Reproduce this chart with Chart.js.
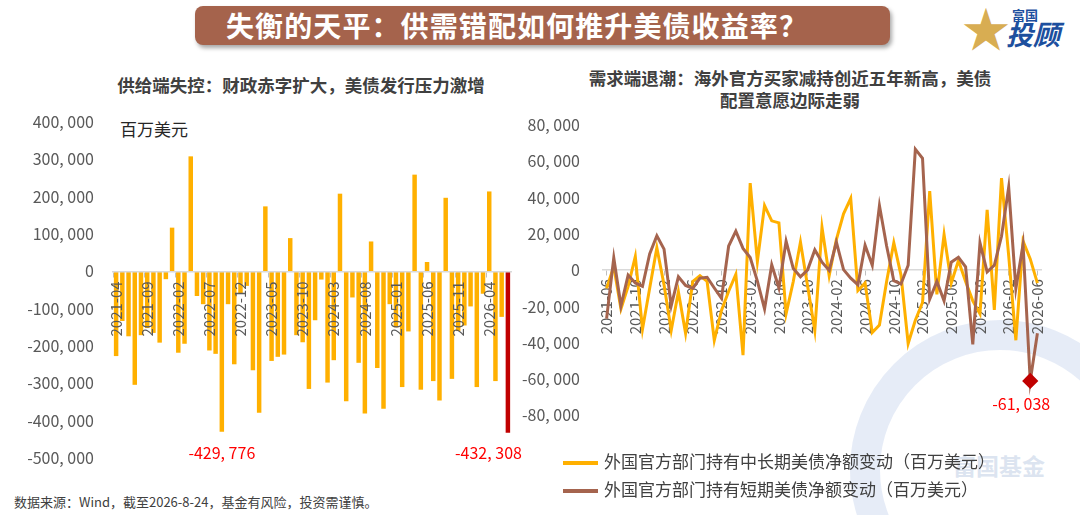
<!DOCTYPE html>
<html lang="zh-CN">
<head>
<meta charset="UTF-8">
<title>失衡的天平：供需错配如何推升美债收益率？</title>
<style>
  body {
    margin: 0;
    width: 1080px;
    height: 515px;
    position: relative;
    overflow: hidden;
    background: #fff;
    font-family: "Noto Sans CJK SC", "Noto Sans", sans-serif;
    color: #404040;
  }
  .abs { position: absolute; }
  .title {
    left: 195px; top: 6px; width: 695px; height: 39px;
    background: #a5634c; border-radius: 8px;
    box-shadow: 2px 3px 4px rgba(0, 0, 0, 0.35);
    color: #fff; font-size: 28px; font-weight: bold; line-height: 39px;
    letter-spacing: 1.1px;
    padding-left: 31px; box-sizing: border-box;
  }
  .logo-star { left: 962px; top: -2px; font-size: 48px; color: #d8ad52; line-height: 56px; }
  .logo-small { left: 1012px; top: 5px; font-size: 13px; font-weight: bold; color: #1d4f9e; }
  .logo-big { left: 1006px; top: 19px; font-size: 27px; font-weight: bold; font-style: italic; color: #1d4f9e; line-height: 30px; }
  .sub { font-size: 17.5px; font-weight: bold; line-height: 22px; text-align: center; color: #404040; }
  .unit { left: 120px; top: 116px; font-size: 17px; color: #262626; }
  .ring {
    left: 850px; top: 320px; width: 240px; height: 240px;
    border: 30px solid rgba(222, 230, 244, 0.75); border-radius: 50%;
  }
  .mark { left: 953px; top: 448px; font-size: 23px; font-weight: bold; color: rgba(190, 205, 228, 0.55); }
  .legend { left: 563px; font-size: 17px; color: #404040; line-height: 22px; }
  .legend span { display: inline-block; width: 35px; height: 4px; vertical-align: middle; margin-right: 6px; }
  .foot { left: 14px; top: 492px; font-size: 13px; color: #404040; }
  .box { position: absolute; }
</style>
<script src="https://cdn.jsdelivr.net/npm/chart.js"></script>
</head>
<body>
  <div class="abs ring"></div>
  <div class="abs mark">富国基金</div>

  <div class="abs title">失衡的天平：供需错配如何推升美债收益率？</div>
  <div class="abs logo-star">★</div>
  <div class="abs logo-small">富国</div>
  <div class="abs logo-big">投顾</div>

  <div class="abs sub" style="left:0; top:74px; width:602px;">供给端失控：财政赤字扩大，美债发行压力激增</div>
  <div class="abs sub" style="left:540px; top:67px; width:500px;">需求端退潮：海外官方买家减持创近五年新高，美债<br>配置意愿边际走弱</div>
  <div class="abs unit">百万美元</div>

  <div class="box" style="left:0; top:100px; width:540px; height:380px;">
    <canvas id="supplyChart"></canvas>
  </div>
  <div class="box" style="left:520px; top:100px; width:560px; height:340px;">
    <canvas id="demandChart"></canvas>
  </div>

  <div class="abs legend" style="top:450px;"><span style="background:#ffb000;"></span>外国官方部门持有中长期美债净额变动（百万美元）</div>
  <div class="abs legend" style="top:478px;"><span style="background:#a5644e;"></span>外国官方部门持有短期美债净额变动（百万美元）</div>

  <div class="abs foot">数据来源：Wind，截至2026-8-24，基金有风险，投资需谨慎。</div>

<script>
// 左图：美债净发行（百万美元），2021-04 ~ 2026-07
const supplyMonths = [
  '2021-04','2021-05','2021-06','2021-07','2021-08','2021-09','2021-10','2021-11','2021-12',
  '2022-01','2022-02','2022-03','2022-04','2022-05','2022-06','2022-07','2022-08','2022-09','2022-10','2022-11','2022-12',
  '2023-01','2023-02','2023-03','2023-04','2023-05','2023-06','2023-07','2023-08','2023-09','2023-10','2023-11','2023-12',
  '2024-01','2024-02','2024-03','2024-04','2024-05','2024-06','2024-07','2024-08','2024-09','2024-10','2024-11','2024-12',
  '2025-01','2025-02','2025-03','2025-04','2025-05','2025-06','2025-07','2025-08','2025-09','2025-10','2025-11','2025-12',
  '2026-01','2026-02','2026-03','2026-04','2026-05','2026-06','2026-07'
];
const supplyValues = [
  -227000, -133000, -174000, -304000, -171000, -152000, -165000, -191000, -21000,
  117000, -218000, -194000, 308000, -66000, -88000, -212000, -221000, -429776, -88000, -249000, -60000,
  -39000, -265000, -379000, 174000, -240000, -229000, -223000, 89000, -171000, -190000, -315000, -131000,
  -22000, -298000, -238000, 208000, -348000, -70000, -245000, -381000, 80000, -259000, -368000, -88000,
  -150000, -310000, -161000, 259000, -317000, 25000, -294000, -346000, 197000, -288000, -160000, -145000,
  -94000, -310000, -60000, 214000, -294000, -122000, -432308
];
const supplyNoteIdx = [17, 63];
const supplyTicks = [400000, 300000, 200000, 100000, 0, -100000, -200000, -300000, -400000, -500000];

// 右图：外国官方部门持有美债净额变动（百万美元），2021-06 ~ 2026-06
const demandMonths = [
  '2021-06','2021-07','2021-08','2021-09','2021-10','2021-11','2021-12',
  '2022-01','2022-02','2022-03','2022-04','2022-05','2022-06','2022-07','2022-08','2022-09','2022-10','2022-11','2022-12',
  '2023-01','2023-02','2023-03','2023-04','2023-05','2023-06','2023-07','2023-08','2023-09','2023-10','2023-11','2023-12',
  '2024-01','2024-02','2024-03','2024-04','2024-05','2024-06','2024-07','2024-08','2024-09','2024-10','2024-11','2024-12',
  '2025-01','2025-02','2025-03','2025-04','2025-05','2025-06','2025-07','2025-08','2025-09','2025-10','2025-11','2025-12',
  '2026-01','2026-02','2026-03','2026-04','2026-05','2026-06'
];
const longTermValues = [
  -10000, 2000, -21300, -8900, 7600, -32500, -10000,
  12400, -8000, -33200, -11900, -34700, -6200, -3000, -6200, -38600, -22200, -11600, -2300,
  -46800, 48000, 4800, 35600, 27200, 26100, -24000, -6200, 15500, -8900, -33200, 23600,
  -3000, 16900, 31100, 39600, -11200, -7100, -34300, -30200, -6200, 15100, -2700, -40400,
  -27600, -17800, 43600, -13300, 19600, -7100, 5300, -6200, -16900, -24000, 33200, -21900,
  50700, 8000, -38600, 16000, 6200, -7100
];
const shortTermValues = [
  -26700, 6800, -19600, -2700, -7000, -8900, 8900,
  19000, 11600, -19600, -3600, -8400, -10000, -4400, -3900, -9800, -15500, 13300, 21500,
  12000, 7000, -6000, -21300, 3000, -9800, 16000, 900, -3600, 200, 11200, 4400,
  -100, 15500, 300, -4400, -8000, 13700, 2700, 35600, 13300, -5800, -7600, 2700,
  66700, 61700, -16000, -6200, -16900, 4400, 7100, 1800, -40900, 15100, -900, 2700,
  18700, 45700, -10100, 14200, -61038, -34700
];
const demandTicks = [80000, 60000, 40000, 20000, 0, -20000, -40000, -60000, -80000];

const YELLOW = '#ffb000';
const BROWN = '#a5644e';
const DARK_RED = '#c00000';
const FONT = '"Noto Sans CJK SC", "Noto Sans", sans-serif';

function fmt(v) {
  return Number(v).toLocaleString('en-US').replace(/,/g, ', ');
}

// 在柱/点下方写出数值
const notesPlugin = {
  id: 'notes',
  afterDatasetsDraw(chart, args, opts) {
    if (!opts.items) return;
    const ctx = chart.ctx;
    const ds = opts.dataset || 0;
    const meta = chart.getDatasetMeta(ds);
    const data = chart.data.datasets[ds].data;
    ctx.save();
    ctx.fillStyle = '#ff0000';
    ctx.font = '16px ' + FONT;
    ctx.textBaseline = 'middle';
    opts.items.forEach(it => {
      const el = meta.data[it.index];
      ctx.textAlign = it.align || 'center';
      ctx.fillText(fmt(data[it.index]), el.x + (it.dx || 0), el.y + (it.dy || 0));
    });
    ctx.restore();
  }
};

// 左图
new Chart(document.getElementById('supplyChart'), {
  type: 'bar',
  data: {
    labels: supplyMonths,
    datasets: [{
      data: supplyValues,
      backgroundColor: ctx => ctx.dataIndex === supplyValues.length - 1 ? DARK_RED : YELLOW,
      barPercentage: 0.72,
      categoryPercentage: 1
    }]
  },
  options: {
    responsive: true,
    maintainAspectRatio: false,
    animation: false,
    layout: { padding: { top: 22, bottom: 22, left: 0, right: 29 } },
    plugins: {
      legend: { display: false },
      tooltip: { enabled: false },
      notes: {
        dataset: 0,
        items: [
          { index: supplyNoteIdx[0], dy: 21 },
          { index: supplyNoteIdx[1], dy: 20, dx: 14, align: 'right' }
        ]
      }
    },
    scales: {
      x: {
        position: { y: 0 },
        grid: {
          drawOnChartArea: false,
          tickLength: 5,
          color: ctx => ctx.index % 5 === 0 ? '#bfbfbf' : 'rgba(0,0,0,0)'
        },
        border: { color: '#d9d9d9', width: 1.5, z: 1 },
        ticks: {
          z: 1,
          autoSkip: false,
          minRotation: 90,
          maxRotation: 90,
          padding: 5,
          color: '#595959',
          font: { size: 15, family: FONT },
          callback: function (val, i) { return i % 5 === 0 ? this.getLabelForValue(val) : ''; }
        }
      },
      y: {
        min: supplyTicks[supplyTicks.length - 1],
        max: supplyTicks[0],
        afterBuildTicks: scale => { scale.ticks = supplyTicks.map(v => ({ value: v })); },
        afterFit: scale => { scale.width = 113; },
        grid: { display: false },
        border: { display: false },
        ticks: {
          padding: 11,
          color: '#595959',
          font: { size: 16, family: FONT },
          callback: v => fmt(v)
        }
      }
    }
  },
  plugins: [notesPlugin]
});

// 右图
const lowIdx = shortTermValues.indexOf(Math.min(...shortTermValues));

new Chart(document.getElementById('demandChart'), {
  type: 'line',
  data: {
    labels: demandMonths,
    datasets: [
      {
        label: '外国官方部门持有中长期美债净额变动（百万美元）',
        data: longTermValues,
        borderColor: YELLOW,
        backgroundColor: YELLOW,
        borderWidth: 3,
        pointRadius: 0,
        tension: 0,
        order: 1
      },
      {
        label: '外国官方部门持有短期美债净额变动（百万美元）',
        data: shortTermValues,
        borderColor: BROWN,
        backgroundColor: BROWN,
        borderWidth: 3,
        tension: 0,
        pointStyle: 'rectRot',
        pointRadius: ctx => ctx.dataIndex === lowIdx ? 6 : 0,
        pointBackgroundColor: DARK_RED,
        pointBorderColor: DARK_RED,
        order: 0
      }
    ]
  },
  options: {
    responsive: true,
    maintainAspectRatio: false,
    animation: false,
    layout: { padding: { top: 25, bottom: 15, left: 0, right: 39 } },
    plugins: {
      legend: { display: false },
      tooltip: { enabled: false },
      notes: {
        dataset: 1,
        items: [{ index: lowIdx, dy: 23, dx: -9 }]
      }
    },
    scales: {
      x: {
        offset: true,
        position: { y: 0 },
        grid: {
          offset: false,
          drawOnChartArea: false,
          tickLength: 5,
          color: ctx => ctx.index % 4 === 0 ? '#bfbfbf' : 'rgba(0,0,0,0)'
        },
        border: { color: '#d9d9d9', width: 1.5 },
        ticks: {
          autoSkip: false,
          minRotation: 90,
          maxRotation: 90,
          padding: 4,
          color: '#595959',
          font: { size: 15, family: FONT },
          callback: function (val, i) { return i % 4 === 0 ? this.getLabelForValue(val) : ''; }
        }
      },
      y: {
        min: demandTicks[demandTicks.length - 1],
        max: demandTicks[0],
        afterBuildTicks: scale => { scale.ticks = demandTicks.map(v => ({ value: v })); },
        afterFit: scale => { scale.width = 83; },
        grid: { display: false },
        border: { display: false },
        ticks: {
          padding: 15,
          color: '#595959',
          font: { size: 16, family: FONT },
          callback: v => fmt(v)
        }
      }
    }
  },
  plugins: [notesPlugin]
});
</script>
</body>
</html>
